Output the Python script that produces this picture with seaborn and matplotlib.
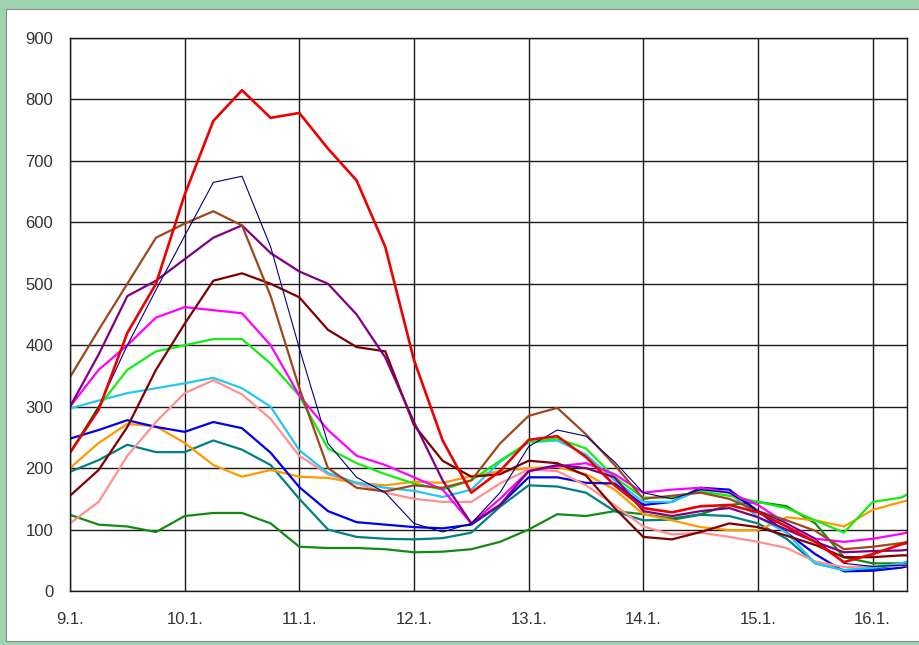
import numpy as np
import pandas as pd
import matplotlib
matplotlib.use("Agg")
import matplotlib.pyplot as plt
import seaborn as sns

# days after 9.1. (x axis)
days = [0, 0.25, 0.5, 0.75, 1.0, 1.25, 1.5, 1.75, 2.0, 2.25, 2.5, 2.75, 3.0, 3.25, 3.5,
        3.75, 4.0, 4.25, 4.5, 4.75, 5.0, 5.25, 5.5, 5.75, 6.0, 6.25, 6.5, 6.75, 7.0, 7.25, 7.3]
tick_labels = ["9.1.", "10.1.", "11.1.", "12.1.", "13.1.", "14.1.", "15.1.", "16.1."]

dark_green = [124, 108, 105, 96, 122, 127, 127, 110, 72, 70, 70, 68, 63, 64, 68,
              80, 100, 125, 122, 130, 125, 118, 125, 140, 145, 138, 110, 55, 45, 45, 46]
teal = [194, 213, 238, 226, 226, 245, 230, 205, 150, 100, 88, 85, 84, 86, 95,
        137, 172, 170, 160, 130, 115, 116, 124, 122, 110, 85, 45, 34, 36, 43, 45]
orange = [200, 241, 272, 268, 241, 205, 186, 197, 186, 184, 176, 172, 178, 176, 187,
          195, 200, 202, 190, 165, 125, 115, 104, 99, 99, 120, 115, 105, 132, 145, 147]
blue = [248, 262, 278, 267, 259, 275, 265, 225, 169, 130, 112, 108, 104, 102, 108,
        140, 185, 185, 176, 175, 140, 145, 168, 165, 130, 95, 60, 32, 33, 38, 40]
pink = [110, 145, 220, 275, 322, 343, 320, 280, 220, 190, 175, 160, 150, 145, 145,
        175, 198, 195, 172, 140, 105, 92, 95, 88, 80, 70, 48, 39, 40, 42, 42]
cyan = [297, 310, 322, 330, 338, 347, 330, 300, 229, 192, 176, 168, 163, 153, 165,
        210, 242, 245, 222, 180, 145, 145, 165, 160, 120, 95, 45, 34, 38, 45, 48]
lime = [225, 300, 360, 390, 400, 410, 410, 370, 318, 232, 208, 190, 175, 165, 180,
        212, 242, 248, 232, 185, 152, 152, 162, 155, 145, 135, 115, 95, 145, 152, 157]
magenta = [300, 360, 400, 445, 462, 457, 452, 400, 318, 262, 220, 205, 185, 165, 110,
           150, 195, 203, 208, 190, 160, 165, 168, 160, 140, 110, 85, 80, 85, 93, 95]
maroon = [155, 197, 267, 360, 435, 505, 517, 500, 478, 425, 397, 390, 270, 212, 186,
          190, 212, 208, 188, 135, 88, 84, 96, 110, 104, 90, 75, 55, 55, 58, 58]
purple = [300, 385, 480, 505, 540, 575, 595, 550, 520, 500, 450, 380, 275, 180, 110,
          140, 195, 205, 200, 185, 130, 122, 130, 135, 120, 100, 80, 63, 65, 66, 67]
brown = [348, 425, 500, 575, 598, 618, 595, 480, 330, 200, 168, 162, 172, 168, 180,
         240, 285, 298, 255, 205, 150, 155, 160, 150, 130, 115, 98, 68, 72, 78, 80]
navy = [225, 300, 400, 490, 578, 665, 675, 560, 395, 240, 185, 160, 110, 96, 110,
        160, 235, 262, 252, 210, 160, 150, 165, 160, 130, 110, 85, 45, 40, 42, 42]
red = [225, 295, 420, 500, 645, 765, 815, 770, 778, 720, 668, 560, 376, 245, 160,
       195, 246, 252, 218, 172, 135, 128, 138, 140, 128, 105, 80, 47, 60, 76, 78]

series = [
    ("dark green", dark_green, "#138a13", 1.6),
    ("teal", teal, "#008080", 1.6),
    ("orange", orange, "#ff9900", 1.6),
    ("blue", blue, "#0000ee", 1.6),
    ("pink", pink, "#ff9090", 1.6),
    ("cyan", cyan, "#22c8f0", 1.6),
    ("lime", lime, "#11ee11", 1.6),
    ("magenta", magenta, "#ff00ff", 1.6),
    ("maroon", maroon, "#800000", 1.6),
    ("purple", purple, "#800080", 1.6),
    ("brown", brown, "#a0461e", 1.6),
    ("navy", navy, "#000080", 0.8),
    ("red", red, "#ee0000", 1.9),
]

sns.set_style("white")
plt.rcParams['font.family'] = ['Liberation Sans', 'DejaVu Sans']

fig = plt.figure(figsize=(9.2, 6.45), dpi=100)
fig.patch.set_facecolor("#9dd3ad")
panel = plt.Rectangle((6 / 920, 4 / 645), 1, 632 / 645, transform=fig.transFigure,
                      facecolor="white", edgecolor="#888888", linewidth=0.8, zorder=-10)
fig.patches.append(panel)

ax = fig.add_axes([70 / 920, 1 - 591 / 645, 837 / 920, 553 / 645])
ax.set_zorder(5)
ax.set_facecolor("white")

for name, vals, color, lw in series:
    df = pd.DataFrame({"day": days, "value": vals})
    sns.lineplot(data=df, x="day", y="value", color=color, linewidth=lw, ax=ax,
                 legend=False)

ax.set_xlim(0, 7.3)
ax.set_ylim(0, 900)
ax.set_xticks(range(8))
ax.set_xticklabels(tick_labels)
ax.set_yticks(range(0, 901, 100))
ax.set_xlabel("")
ax.set_ylabel("")
ax.grid(True, color="#1a1a1a", linewidth=1.0)
ax.set_axisbelow(True)
for s in ax.spines.values():
    s.set_color("#1a1a1a")
    s.set_linewidth(1.0)
ax.tick_params(axis="both", length=5, width=1.0, color="#1a1a1a", labelsize=12,
               labelcolor="#333333", direction="out")
ax.tick_params(axis="y", pad=7)
ax.tick_params(axis="x", pad=10)

fig.savefig("out.png", dpi=100, facecolor=fig.get_facecolor())
